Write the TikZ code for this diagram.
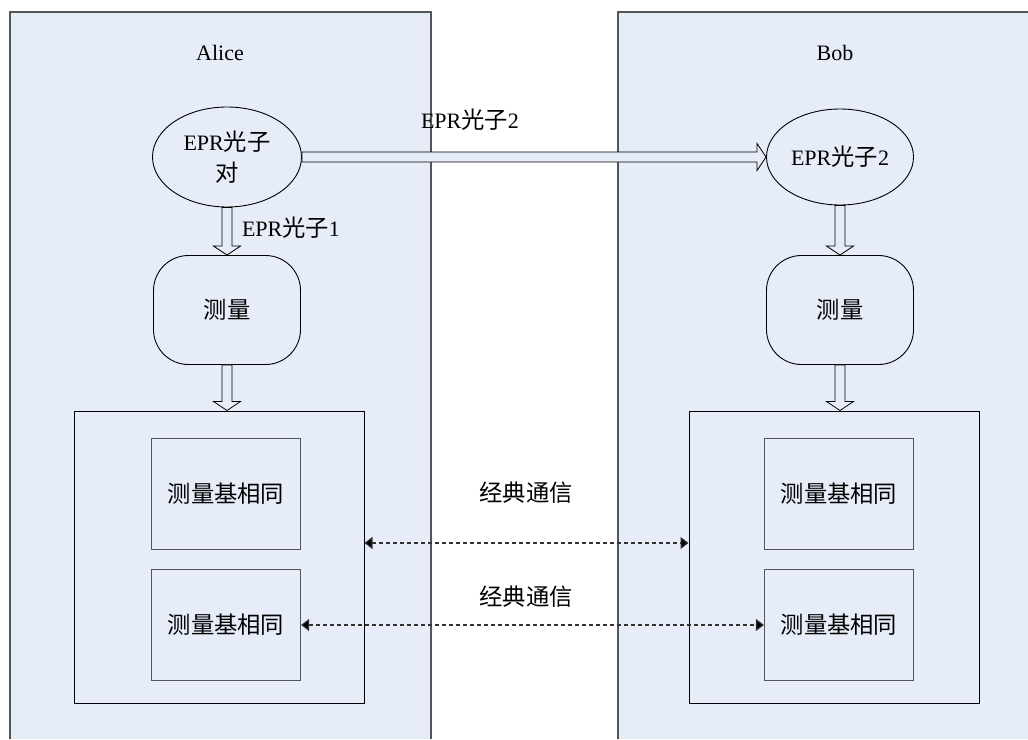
\documentclass[tikz,border=0pt]{standalone}
\usepackage{fontspec}
\setmainfont{Liberation Serif}
\newfontfamily\cjk[Scale=1.06]{Noto Sans CJK SC}
\usetikzlibrary{shapes.geometric,calc,arrows.meta}
\definecolor{panel}{RGB}{230,237,248}
\definecolor{edge}{RGB}{85,85,85}
\definecolor{dash}{RGB}{50,50,50}
\begin{document}
\begin{tikzpicture}[x=1pt,y=-1pt,
  font=\fontsize{22}{32}\selectfont,
  lbl/.style={inner sep=0pt, align=center},
  ell/.style={ellipse, draw=black, line width=0.9pt, fill=panel, inner sep=0pt, align=center},
  meas/.style={rectangle, rounded corners=35pt, draw=black, line width=0.9pt, fill=panel, minimum width=147pt, minimum height=109pt, inner sep=0pt},
  outerbox/.style={rectangle, draw=black, line width=1pt, minimum width=290pt, minimum height=292pt, inner sep=0pt},
  innerbox/.style={rectangle, draw=edge, line width=1.2pt, minimum width=149pt, minimum height=111pt, inner sep=0pt},
  hollow/.style={draw=black, line width=0.8pt, fill=panel,
    to path={let \p1=($(\tikztotarget)!9pt!(\tikztostart)$) in
      ($(\tikztostart)!5pt!90:(\tikztotarget)$) -- ($(\p1)!5pt!90:(\tikztotarget)$)
      -- ($(\p1)!13.5pt!90:(\tikztotarget)$) -- (\tikztotarget)
      -- ($(\p1)!13.5pt!-90:(\tikztotarget)$) -- ($(\p1)!5pt!-90:(\tikztotarget)$)
      -- ($(\tikztostart)!5pt!-90:(\tikztotarget)$) -- cycle}},
  comm/.style={draw=dash, line width=1.1pt, dash pattern=on 4pt off 3pt,
    {Triangle[length=8pt,width=12pt,fill=black]}-{Triangle[length=8pt,width=12pt,fill=black]}}
]
\useasboundingbox (0,0) rectangle (1028,739);
% panels
\fill[panel] (10,12) rectangle (431,739);
\fill[panel] (618,12) rectangle (1028,739);
\draw[edge, line width=1.3pt] (10,739) -- (10,12) -- (431,12) -- (431,739);
\draw[edge, line width=1.3pt] (618,739) -- (618,12) -- (1028,12);
% titles
\node[lbl] (alice) at (220,53) {Alice};
\node[lbl] (bob) at (835,53) {Bob};
% ellipses
\node[ell, minimum width=149pt, minimum height=100pt] (aE) at (227,157) {EPR{\cjk 光子}\\[-1pt]{\cjk 对}};
\node[ell, minimum width=147pt, minimum height=96pt] (bE) at (840,157) {EPR{\cjk 光子}2};
% measurement
\node[meas] (aM) at (227,310) {{\cjk 测量}};
\node[meas] (bM) at (840,310) {{\cjk 测量}};
% outer boxes
\node[outerbox] (aO) at (219,557) {};
\node[outerbox] (bO) at (834,557) {};
% inner boxes
\node[innerbox] (aI1) at (226,494) {{\cjk 测量基相同}};
\node[innerbox] (aI2) at (226,625) {{\cjk 测量基相同}};
\node[innerbox] (bI1) at (839,494) {{\cjk 测量基相同}};
\node[innerbox] (bI2) at (839,625) {{\cjk 测量基相同}};
% hollow arrows
\draw[hollow] (aE.east) to (bE.west);
\draw[hollow] (aE.south) to (aM.north);
\draw[hollow] (aM.south) to (aO.north -| aM.south);
\draw[hollow] (bE.south) to (bM.north);
\draw[hollow] (bM.south) to (bO.north -| bM.south);
% labels
\node[lbl] (l2) at (470,120) {EPR{\cjk 光子}2};
\node[lbl] (l1) at (291,228) {EPR{\cjk 光子}1};
\node[lbl] (c1) at (526,493) {{\cjk 经典通信}};
\node[lbl] (c2) at (526,597) {{\cjk 经典通信}};
% classical communication
\draw[comm] ($(aO.east)+(0,-14)$) -- ($(bO.west)+(0,-14)$);
\draw[comm] (aI2.east) -- (bI2.west);
\end{tikzpicture}
\end{document}
